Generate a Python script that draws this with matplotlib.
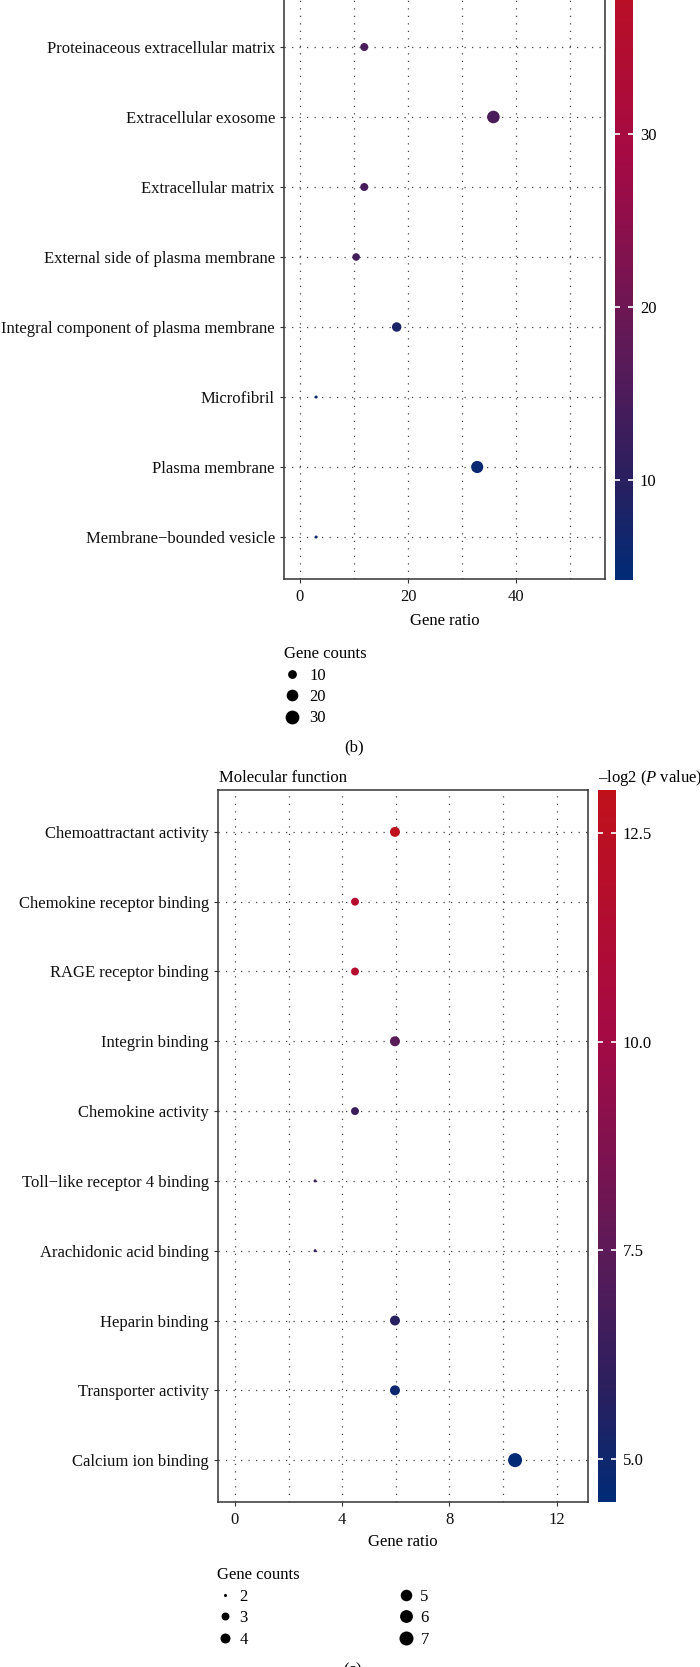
import numpy as np
import matplotlib
matplotlib.use("Agg")
import matplotlib.pyplot as plt
from matplotlib.colors import LinearSegmentedColormap
from matplotlib.lines import Line2D

plt.rcParams['font.family'] = ['Liberation Serif', 'DejaVu Serif']
plt.rcParams['mathtext.fontset'] = 'custom'
plt.rcParams['mathtext.rm'] = 'Liberation Serif'
plt.rcParams['mathtext.it'] = 'Liberation Serif:italic'
plt.rcParams['font.size'] = 12

# ---------------- data ----------------
cc_terms = ["Proteinaceous extracellular matrix", "Extracellular exosome",
            "Extracellular matrix", "External side of plasma membrane",
            "Integral component of plasma membrane", "Microfibril",
            "Plasma membrane", "Membrane\u2212bounded vesicle"]
cc_ratio = [11.9, 35.8, 11.9, 10.4, 17.9, 3.0, 32.8, 3.0]
cc_counts = [8, 24, 8, 7, 12, 2, 22, 2]
cc_logp = [14.5, 14.8, 14.3, 13.5, 8.0, 5.8, 5.4, 5.8]
cc_xticks = [0, 20, 40]
cc_xminor = [10, 30, 50]
cc_cbar_ticks = [10, 20, 30]
cc_legend_counts = [10, 20, 30]

mf_terms = ["Chemoattractant activity", "Chemokine receptor binding",
            "RAGE receptor binding", "Integrin binding", "Chemokine activity",
            "Toll\u2212like receptor 4 binding", "Arachidonic acid binding",
            "Heparin binding", "Transporter activity", "Calcium ion binding"]
mf_ratio = [5.97, 4.48, 4.48, 5.97, 4.48, 2.99, 2.99, 5.97, 5.97, 10.45]
mf_counts = [4, 3, 3, 4, 3, 2, 2, 4, 4, 7]
mf_logp = [12.9, 11.7, 11.7, 7.4, 6.4, 6.3, 6.2, 5.8, 4.9, 4.6]
mf_xticks = [0, 4, 8, 12]
mf_xminor = [2, 6, 10]
mf_cbar_ticks = [5.0, 7.5, 10.0, 12.5]
mf_legend_counts = [2, 3, 4, 5, 6, 7]

# ---------------- helpers ----------------
W, H = 700, 1667
DPI = 100

cmap = LinearSegmentedColormap.from_list(
    "navy_red",
    [(0.0, "#002B76"), (0.16, "#2B1F5E"), (0.35, "#5C1A58"),
     (0.65, "#A40A45"), (1.0, "#C0111B")])


def diam(c, cmin, cmax, dmin=3.0, dmax=14.0):
    t = (np.asarray(c, float) - cmin) / (cmax - cmin)
    return dmin + (dmax - dmin) * np.sqrt(np.clip(t, 0, 1))


def s_of(d_px):
    return (np.asarray(d_px) * 72 / DPI) ** 2


def rect(left, right, top, bottom):
    return [left / W, 1 - bottom / H, (right - left) / W, (bottom - top) / H]


def style_axes(ax, majors, minors):
    for sp in ax.spines.values():
        sp.set_color('#333333')
        sp.set_linewidth(1.1)
    ax.set_xticks(majors)
    ax.set_xticks(minors, minor=True)
    ax.tick_params(axis='x', which='minor', length=0)
    ax.tick_params(axis='both', which='major', length=3, width=0.8, color='#333333',
                   labelsize=12, labelcolor='#111111')
    ax.tick_params(axis='y', pad=3.5)
    ax.tick_params(axis='x', pad=4)
    ax.grid(True, which='both', axis='both', color='#444444', linewidth=0.9,
            linestyle=(0, (1, 5)))
    ax.set_axisbelow(True)


def style_cbar(cb, fmt):
    cb.outline.set_visible(False)
    cb.ax.minorticks_off()
    cb.ax.yaxis.set_ticks_position('both')
    cb.ax.yaxis.set_tick_params(which='major', direction='in', length=3.5, width=1.2,
                                color='white', left=True, right=True,
                                labelleft=False, labelright=True, labelsize=12, pad=5)
    cb.ax.yaxis.set_major_formatter(plt.FormatStrFormatter(fmt))


fig = plt.figure(figsize=(W / DPI, H / DPI), dpi=DPI)

# ---------------- panel (b) ----------------
n1 = len(cc_terms)
pos1 = np.arange(n1)[::-1]
ax1 = fig.add_axes(rect(284, 605, -65, 579))
vmin1, vmax1 = 4.2, 41.5
sc1 = ax1.scatter(cc_ratio, pos1, s=s_of(diam(cc_counts, 2, 31)), c=cc_logp, cmap=cmap,
                  vmin=vmin1, vmax=vmax1, linewidths=0, zorder=3)
ax1.set_yticks(pos1, cc_terms)
ax1.set_ylim(-0.6, n1 - 1 + 1.6)
ax1.set_xlim(-2.95, 56.45)
style_axes(ax1, cc_xticks, cc_xminor)
ax1.set_xlabel("Gene ratio", fontsize=12, va='center')
ax1.xaxis.set_label_coords(0.5, -(621 - 579) / (579 + 65))

cax1 = fig.add_axes(rect(615, 633, -65, 580))
cb1 = fig.colorbar(sc1, cax=cax1, ticks=cc_cbar_ticks)
style_cbar(cb1, '%d')

h1 = [Line2D([], [], ls='', marker='o', color='black', markeredgewidth=0,
             markersize=float(diam(c, 2, 31)) * 72 / DPI) for c in cc_legend_counts]
leg1 = fig.legend(h1, [str(c) for c in cc_legend_counts], title="Gene counts",
                  loc='upper left', bbox_to_anchor=(284 / W, 1 - 646 / H),
                  frameon=False, borderpad=0, borderaxespad=0, handlelength=1.0,
                  handletextpad=0.5, labelspacing=0.33, fontsize=12, title_fontsize=12,
                  alignment='left')

fig.text(354 / W, 1 - 747 / H, "(b)", ha='center', va='center', fontsize=12)

# ---------------- panel (c) ----------------
n2 = len(mf_terms)
pos2 = np.arange(n2)[::-1]
ax2 = fig.add_axes(rect(218, 588, 790, 1502))
vmin2, vmax2 = 4.49, 13.01
sc2 = ax2.scatter(mf_ratio, pos2, s=s_of(diam(mf_counts, 2, 7)), c=mf_logp, cmap=cmap,
                  vmin=vmin2, vmax=vmax2, linewidths=0, zorder=3)
ax2.set_yticks(pos2, mf_terms)
ax2.set_ylim(-0.6, n2 - 1 + 0.6)
ax2.set_xlim(-0.63, 13.17)
style_axes(ax2, mf_xticks, mf_xminor)
ax2.set_xlabel("Gene ratio", fontsize=12, va='center')
ax2.xaxis.set_label_coords(0.5, -(1542 - 1502) / (1502 - 790))
ax2.text(0.002, 1 + (790 - 778) / (1502 - 790), "Molecular function", transform=ax2.transAxes,
         ha='left', va='center', fontsize=12)

cax2 = fig.add_axes(rect(598, 616, 790, 1502))
cb2 = fig.colorbar(sc2, cax=cax2, ticks=mf_cbar_ticks)
style_cbar(cb2, '%.1f')
cax2.text(0, 1 + (790 - 778) / (1502 - 790), "\u2013log2 ($\\mathit{P}$ value)",
          transform=cax2.transAxes, ha='left', va='center', fontsize=12)

h2 = [Line2D([], [], ls='', marker='o', color='black', markeredgewidth=0,
             markersize=float(diam(c, 2, 7)) * 72 / DPI) for c in mf_legend_counts]
leg2 = fig.legend(h2, [str(c) for c in mf_legend_counts], title="Gene counts", ncol=2,
                  loc='upper left', bbox_to_anchor=(217 / W, 1 - 1567 / H),
                  frameon=False, borderpad=0, borderaxespad=0, handlelength=1.0,
                  handletextpad=0.35, labelspacing=0.33, columnspacing=9.0,
                  fontsize=12, title_fontsize=12, alignment='left')

fig.text(353 / W, 1 - 1662 / H, "(c)", ha='center', va='top', fontsize=12)

fig.savefig("out.png", dpi=DPI)
